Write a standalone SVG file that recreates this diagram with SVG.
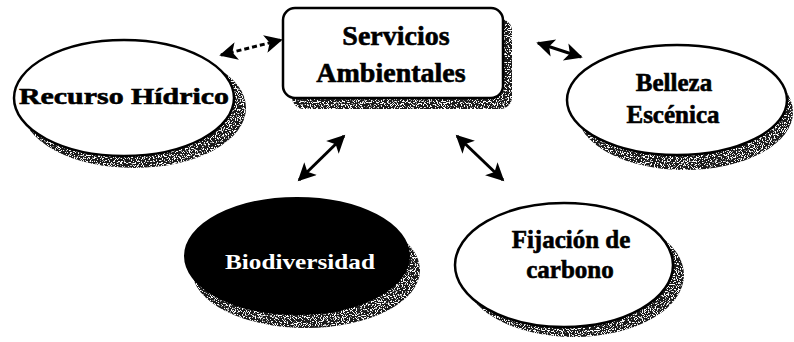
<svg xmlns="http://www.w3.org/2000/svg" width="794" height="342" viewBox="0 0 794 342">
<style>
.lbl{font-family:"Liberation Serif","Times New Roman",serif;font-weight:bold;fill:#000;stroke:#000;stroke-width:0.6;text-anchor:middle}
.node{fill:#fff;stroke:#000;stroke-width:2.5}
.shadow{fill:#1a1a1a;filter:url(#speckle)}
.conn{stroke:#000;stroke-width:3;fill:none;marker-start:url(#ah);marker-end:url(#ah)}
</style>
<defs>
<filter id="speckle" x="0" y="0" width="1" height="1">
<feTurbulence type="fractalNoise" baseFrequency="0.85" numOctaves="2" seed="7" result="n"/>
<feColorMatrix in="n" type="matrix" values="0 0 0 0 1  0 0 0 0 1  0 0 0 0 1  14 0 0 0 -7.6" result="w"/>
<feComposite in="w" in2="SourceGraphic" operator="in" result="s"/>
<feMerge><feMergeNode in="SourceGraphic"/><feMergeNode in="s"/></feMerge>
</filter>
<marker id="ah" viewBox="0 0 10 10" refX="9" refY="5" markerWidth="20" markerHeight="18" markerUnits="userSpaceOnUse" orient="auto-start-reverse">
<path d="M0,0 L10,5 L0,10 L2.5,5 Z" fill="#000"/>
</marker>
</defs>

<g id="connectors">
<line class="conn" x1="221" y1="55" x2="281" y2="40" stroke-dasharray="5,3" stroke-width="2"/>
<line class="conn" x1="538" y1="43" x2="581" y2="57"/>
<line class="conn" x1="344" y1="136" x2="299" y2="180"/>
<line class="conn" x1="457" y1="136" x2="503" y2="180"/>
</g>

<g id="servicios">
<rect class="shadow" x="292" y="19" width="220" height="90" rx="12"/>
<rect class="node" x="283" y="8" width="220" height="90" rx="12"/>
<text class="lbl" x="396" y="45" font-size="28">Servicios</text>
<text class="lbl" x="391" y="82" font-size="28">Ambientales</text>
</g>

<g id="recurso">
<ellipse class="shadow" cx="134" cy="108" rx="112" ry="60"/>
<ellipse class="node" cx="124" cy="98" rx="110" ry="58"/>
<text class="lbl" x="124" y="104" font-size="24" textLength="210" lengthAdjust="spacingAndGlyphs">Recurso Hídrico</text>
</g>

<g id="belleza">
<ellipse class="shadow" cx="685" cy="112" rx="108" ry="58"/>
<ellipse class="node" cx="677" cy="100" rx="110" ry="55"/>
<text class="lbl" x="674" y="91" font-size="25">Belleza</text>
<text class="lbl" x="673" y="123" font-size="25">Escénica</text>
</g>

<g id="biodiversidad">
<ellipse class="shadow" cx="306" cy="270" rx="114" ry="58"/>
<ellipse cx="297" cy="256" rx="112" ry="58" fill="#000" stroke="#000" stroke-width="2"/>
<text class="lbl" x="300" y="269" font-size="22" style="fill:#fff;stroke:none" textLength="150" lengthAdjust="spacingAndGlyphs">Biodiversidad</text>
</g>

<g id="fijacion">
<ellipse class="shadow" cx="574" cy="275" rx="110" ry="62"/>
<ellipse class="node" cx="564" cy="265" rx="109" ry="62"/>
<text class="lbl" x="571" y="248" font-size="25">Fijación de</text>
<text class="lbl" x="570" y="278" font-size="25">carbono</text>
</g>
</svg>
